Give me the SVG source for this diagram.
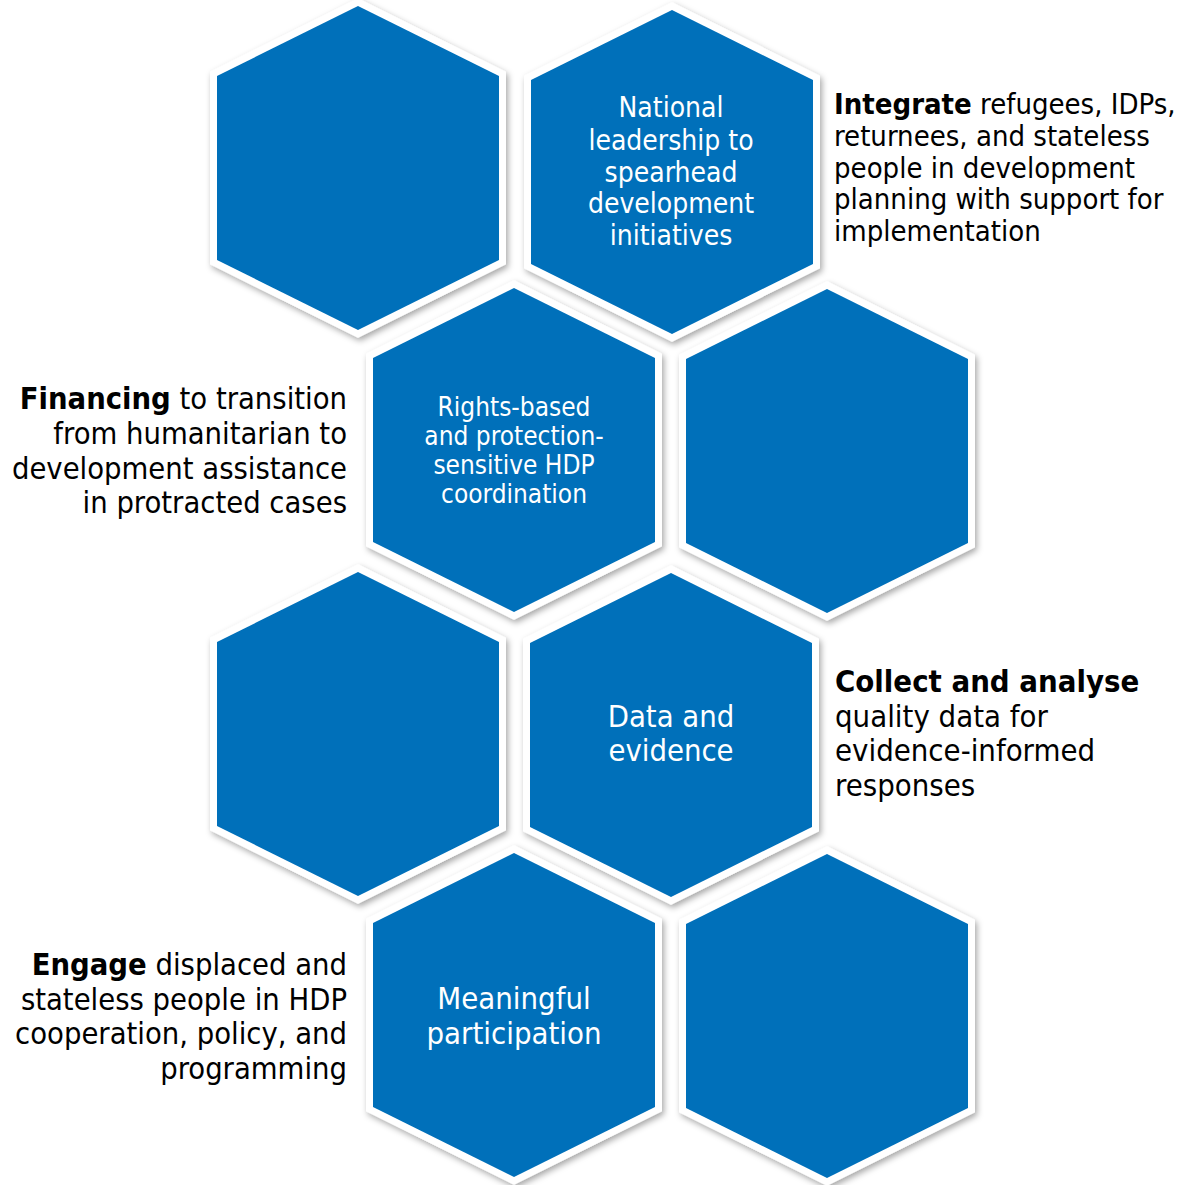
<svg xmlns="http://www.w3.org/2000/svg" width="1188" height="1185" viewBox="0 0 1188 1185">
  <defs>
    <filter id="shadow" x="-10%" y="-10%" width="125%" height="125%">
      <feDropShadow dx="2" dy="3" stdDeviation="3" flood-color="#000" flood-opacity="0.35"/>
    </filter>
    <polygon id="hex" points="0,0 141,70 141,254 0,324 -141,254 -141,70"/>
  </defs>
  <style>
    .hex { fill: #0070BA; stroke: #FFFFFF; stroke-width: 14; stroke-linejoin: miter; paint-order: stroke; filter: url(#shadow); }
    .in { fill: #FFFFFF; font-family: "DejaVu Sans Condensed", "DejaVu Sans", sans-serif; text-anchor: middle; }
    .side { fill: #000000; font-family: "DejaVu Sans Condensed", "DejaVu Sans", sans-serif; }
    .end { text-anchor: end; }
    .b { font-weight: bold; }
  </style>
  <rect width="1188" height="1185" fill="#FFFFFF"/>

  <g id="connectors"></g>

  <g id="hex-a"><use href="#hex" class="hex" transform="translate(358,6)"/></g>
  <g id="hex-b">
    <use href="#hex" class="hex" transform="translate(672,10)"/>
    <g class="in" font-size="28">
      <text x="671" y="117">National</text>
      <text x="671" y="150">leadership to</text>
      <text x="671" y="182">spearhead</text>
      <text x="671" y="213">development</text>
      <text x="671" y="245">initiatives</text>
    </g>
  </g>
  <g id="hex-c">
    <use href="#hex" class="hex" transform="translate(514,288)"/>
    <g class="in" font-size="26">
      <text x="514" y="416">Rights-based</text>
      <text x="514" y="445">and protection-</text>
      <text x="514" y="474">sensitive HDP</text>
      <text x="514" y="503">coordination</text>
    </g>
  </g>
  <g id="hex-d"><use href="#hex" class="hex" transform="translate(827,289)"/></g>
  <g id="hex-e"><use href="#hex" class="hex" transform="translate(358,572)"/></g>
  <g id="hex-f">
    <use href="#hex" class="hex" transform="translate(671,573)"/>
    <g class="in" font-size="30.7">
      <text x="671" y="727">Data and</text>
      <text x="671" y="761">evidence</text>
    </g>
  </g>
  <g id="hex-g">
    <use href="#hex" class="hex" transform="translate(514,853)"/>
    <g class="in" font-size="30.8">
      <text x="514" y="1009">Meaningful</text>
      <text x="514" y="1044">participation</text>
    </g>
  </g>
  <g id="hex-h"><use href="#hex" class="hex" transform="translate(827,854)"/></g>

  <g id="label-integrate" class="side" font-size="29">
    <text x="834" y="114"><tspan class="b">Integrate</tspan> refugees, IDPs,</text>
    <text x="834" y="146">returnees, and stateless</text>
    <text x="834" y="178">people in development</text>
    <text x="834" y="209">planning with support for</text>
    <text x="834" y="241">implementation</text>
  </g>
  <g id="label-financing" class="side end" font-size="30.6">
    <text x="347" y="409"><tspan class="b">Financing</tspan> to transition</text>
    <text x="347" y="444">from humanitarian to</text>
    <text x="347" y="479">development assistance</text>
    <text x="347" y="513">in protracted cases</text>
  </g>
  <g id="label-collect" class="side" font-size="30.8">
    <text x="835" y="692" class="b">Collect and analyse</text>
    <text x="835" y="727">quality data for</text>
    <text x="835" y="761">evidence-informed</text>
    <text x="835" y="796">responses</text>
  </g>
  <g id="label-engage" class="side end" font-size="30.6">
    <text x="347" y="975"><tspan class="b">Engage</tspan> displaced and</text>
    <text x="347" y="1010">stateless people in HDP</text>
    <text x="347" y="1044">cooperation, policy, and</text>
    <text x="347" y="1079">programming</text>
  </g>
</svg>
